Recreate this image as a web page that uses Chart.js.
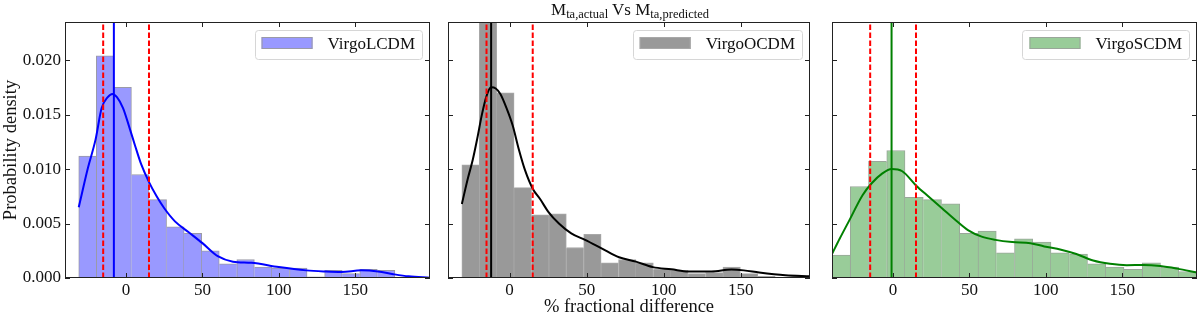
<!DOCTYPE html>
<html>
<head>
<meta charset="utf-8">
<script src="https://cdn.jsdelivr.net/npm/chart.js@4.4.1/dist/chart.umd.min.js"></script>
<style>
  html, body { margin: 0; padding: 0; background: #fff; }
  #wrap { position: relative; width: 1200px; height: 318px; overflow: hidden; }
  .panel { position: absolute; top: 0; }
  #title {
    position: absolute; top: 0; left: 430px; width: 400px; text-align: center;
    font-family: "Liberation Serif", serif; font-size: 17px; line-height: 20px; color: #111;
  }
  #title sub { font-size: 12.5px; vertical-align: -3px; line-height: 0; }
</style>
</head>
<body>
<div id="wrap">
  <canvas id="p1" class="panel" width="440" height="318" style="left:0px"></canvas>
  <canvas id="p2" class="panel" width="380" height="318" style="left:440px"></canvas>
  <canvas id="p3" class="panel" width="380" height="318" style="left:820px"></canvas>
  <div id="title">M<sub>ta,actual</sub> Vs M<sub>ta,predicted</sub></div>
</div>
<script>
// ---- data ----
const xTickValues = [0, 50, 100, 150];
const yTickValues = [0, 0.005, 0.010, 0.015, 0.020];
const errorBand = [-15, 15];

// VirgoLCDM
const lcdmBinCenters = [-25.25, -13.75, -2.25, 9.25, 20.75, 32.25, 43.75, 55.25, 66.75, 78.25,
  89.75, 101.25, 112.75, 124.25, 135.75, 147.25, 158.75, 170.25, 181.75, 193.25];
const lcdmDensity = [0.0112, 0.0204, 0.0175, 0.0095, 0.0072, 0.0047, 0.0041, 0.0025, 0.0013, 0.0017,
  0.0010, 0.0009, 0.0009, 0.0001, 0.0007, 0.0004, 0.0008, 0.0007, 0, 0];
const lcdmKdeX = [-31, -25, -20, -16, -12, -9, -6, -2, 2, 6, 10, 15, 20, 25, 32, 41, 50, 60, 70, 82,
  100, 118, 130, 141, 154, 165, 175, 185, 199];
const lcdmKdeY = [0.0065, 0.0101, 0.0127, 0.0156, 0.0166, 0.0169, 0.0166, 0.0156, 0.0139, 0.0121,
  0.0104, 0.0088, 0.0075, 0.0064, 0.0052, 0.0042, 0.0032, 0.0020, 0.0015, 0.0014,
  0.0010, 0.0007, 0.0006, 0.00055, 0.0007, 0.0006, 0.00035, 0.00015, 0.00003];
const lcdmMedian = -8;

// VirgoOCDM
const ocdmBinCenters = [-25.35, -14.05, -2.75, 8.55, 19.85, 31.15, 42.45, 53.75, 65.05, 76.35,
  87.65, 98.95, 110.25, 121.55, 132.85, 144.15, 155.45, 166.75, 178.05, 189.35];
const ocdmDensity = [0.0104, 0.0260, 0.0170, 0.0083, 0.0058, 0.0059, 0.0028, 0.0040, 0.0014, 0.0017,
  0.0014, 0.0008, 0.0007, 0.0004, 0.0005, 0.0010, 0.0004, 0.00015, 0.00006, 0.0001];
const ocdmKdeX = [-31, -27, -24, -21, -18, -15, -12, -9, -6, -2, 2, 6, 10, 15, 20, 25, 32, 40, 49, 60,
  71, 82, 93, 105, 116, 131, 144, 152, 162, 179, 195];
const ocdmKdeY = [0.0068, 0.0092, 0.0108, 0.0128, 0.0150, 0.0167, 0.0175, 0.0174, 0.0169, 0.0156,
  0.0140, 0.0118, 0.0099, 0.0082, 0.0072, 0.0061, 0.0050, 0.0041, 0.0035, 0.0027,
  0.0019, 0.0015, 0.0010, 0.0008, 0.0006, 0.0006, 0.00077, 0.0007, 0.0005, 0.00025, 0.00016];
const ocdmMedian = -12;

// VirgoSCDM
const scdmBinCenters = [-34.025, -22.075, -10.125, 1.825, 13.775, 25.725, 37.675, 49.625, 61.575, 73.525,
  85.475, 97.425, 109.375, 121.325, 133.275, 145.225, 157.175, 169.125, 181.075, 193.025];
const scdmDensity = [0.0021, 0.0084, 0.0107, 0.0117, 0.0074, 0.0072, 0.0068, 0.0041, 0.0043, 0.0023,
  0.0036, 0.0033, 0.0023, 0.0022, 0.0013, 0.0010, 0.0008, 0.0014, 0.0010, 0.0006];
const scdmKdeX = [-40, -35, -29, -20, -14, -7, -1, 6, 15, 23, 32, 41, 49, 58, 67, 78, 90, 99, 110, 120,
  131, 142, 153, 164, 175, 186, 199];
const scdmKdeY = [0.0022, 0.0036, 0.0052, 0.0076, 0.0087, 0.0096, 0.0100, 0.0098, 0.0085, 0.0075,
  0.0064, 0.0053, 0.0044, 0.0038, 0.0035, 0.0033, 0.0032, 0.0029, 0.0026, 0.0022,
  0.0016, 0.0013, 0.00117, 0.0012, 0.0011, 0.00086, 0.0005];
const scdmMedian = -1;

const FONT = '"Liberation Serif", "Times New Roman", serif';
const Y_MAX = 0.0235;

// inward ticks on all four sides + black frame (matplotlib style)
const frameTicks = {
  id: 'frameTicks',
  afterDraw(chart) {
    const {ctx, chartArea: a, scales} = chart;
    const len = 5;
    ctx.save();
    ctx.strokeStyle = '#222';
    ctx.lineWidth = 1;
    ctx.beginPath();
    xTickValues.forEach(v => {
      const px = Math.round(scales.x.getPixelForValue(v)) + 0.5;
      ctx.moveTo(px, a.bottom); ctx.lineTo(px, a.bottom - len);
      ctx.moveTo(px, a.top); ctx.lineTo(px, a.top + len);
    });
    yTickValues.forEach(v => {
      const py = Math.round(scales.y.getPixelForValue(v)) + 0.5;
      ctx.moveTo(a.left, py); ctx.lineTo(a.left + len, py);
      ctx.moveTo(a.right, py); ctx.lineTo(a.right - len, py);
    });
    ctx.stroke();
    ctx.strokeRect(a.left + 0.5, a.top + 0.5, a.right - a.left - 1, a.bottom - a.top - 1);
    ctx.restore();
  }
};

// framed legend in the upper right corner
const legendBox = {
  id: 'legendBox',
  afterDraw(chart) {
    const ds = chart.data.datasets.find(d => d.type === 'bar');
    const {ctx, chartArea: a} = chart;
    ctx.save();
    ctx.font = '17px ' + FONT;
    const tw = ctx.measureText(ds.label).width;
    const w = 7 + 51 + 15 + tw + 7, h = 29;
    const right = a.right - 8, top = a.top + 8, left = right - w;
    ctx.beginPath();
    ctx.roundRect(Math.round(left) + 0.5, top + 0.5, Math.round(w), h, 3);
    ctx.fillStyle = 'rgba(255,255,255,0.8)';
    ctx.fill();
    ctx.strokeStyle = '#d6d6d6';
    ctx.stroke();
    ctx.fillStyle = ds.backgroundColor;
    ctx.fillRect(left + 7, top + 7, 51, 12);
    ctx.strokeStyle = ds.borderColor;
    ctx.strokeRect(left + 7.5, top + 7.5, 50, 11);
    ctx.fillStyle = '#111';
    ctx.textBaseline = 'alphabetic';
    ctx.fillText(ds.label, left + 73, top + 18.5);
    ctx.restore();
  }
};

function pts(xs, ys) { return xs.map((x, i) => ({x: x, y: ys[i]})); }

function vline(x, color, dash) {
  return {
    type: 'line', data: [{x: x, y: 0}, {x: x, y: Y_MAX}],
    borderColor: color, borderWidth: 2, borderDash: dash || [], pointRadius: 0,
    tension: 0, order: 0
  };
}

function makePanel(id, p) {
  return new Chart(document.getElementById(id), {
    type: 'bar',
    data: {
      datasets: [
        vline(errorBand[0], '#ff0000', [5.5, 2.5]),
        vline(errorBand[1], '#ff0000', [5.5, 2.5]),
        vline(p.median, p.line),
        {
          type: 'line', data: pts(p.kdeX, p.kdeY), borderColor: p.line, borderWidth: 2,
          pointRadius: 0, cubicInterpolationMode: 'monotone', order: 1
        },
        {
          type: 'bar', label: p.name, data: pts(p.centers, p.density),
          backgroundColor: p.fill, borderColor: p.edge,
          borderWidth: c => {
            if (c.dataIndex === undefined) return 1;
            const d = c.dataset.data, i = c.dataIndex, hgt = d[i].y;
            const prev = i > 0 ? d[i - 1].y : 0, next = i < d.length - 1 ? d[i + 1].y : 0;
            return {top: 1, bottom: 0, left: hgt >= prev ? 1 : 0, right: hgt > next ? 1 : 0};
          },
          barPercentage: 1, categoryPercentage: 1, order: 2
        }
      ]
    },
    options: {
      responsive: false,
      animation: false,
      events: [],
      layout: {padding: {left: 0, top: 22, right: p.padRight, bottom: 0}},
      plugins: {legend: {display: false}, tooltip: {enabled: false}, title: {display: false}},
      scales: {
        x: {
          type: 'linear', min: -40, max: p.xMax, offset: false,
          grid: {display: false, drawTicks: false, offset: false},
          border: {display: false},
          afterBuildTicks: s => { s.ticks = xTickValues.map(v => ({value: v})); },
          afterFit: s => { s.height = 40; },
          ticks: {color: '#111', padding: 2, font: {family: FONT, size: 17}, maxRotation: 0},
          title: {
            display: !!p.xTitle, text: p.xTitle || '', color: '#111',
            font: {family: FONT, size: 18.5}, padding: {top: 1, bottom: 0}
          }
        },
        y: {
          type: 'linear', min: 0, max: Y_MAX,
          grid: {display: false, drawTicks: false},
          border: {display: false},
          afterBuildTicks: s => { s.ticks = yTickValues.map(v => ({value: v})); },
          afterFit: s => { s.width = p.yWidth; },
          ticks: {
            display: p.showY, color: '#111', padding: 4,
            font: {family: FONT, size: 17},
            callback: v => v.toFixed(3)
          },
          title: {
            display: !!p.yTitle, text: p.yTitle || '', color: '#111',
            font: {family: FONT, size: 18.5}, padding: {top: 0, bottom: 0}
          }
        }
      }
    },
    plugins: [frameTicks, legendBox]
  });
}

makePanel('p1', {
  name: 'VirgoLCDM', centers: lcdmBinCenters, density: lcdmDensity,
  kdeX: lcdmKdeX, kdeY: lcdmKdeY, median: lcdmMedian,
  fill: 'rgb(153,153,255)', edge: '#9a9aa6', line: '#0000ff',
  xMax: 199, yWidth: 65, padRight: 10, showY: true, yTitle: 'Probability density'
});
makePanel('p2', {
  name: 'VirgoOCDM', centers: ocdmBinCenters, density: ocdmDensity,
  kdeX: ocdmKdeX, kdeY: ocdmKdeY, median: ocdmMedian,
  fill: 'rgb(153,153,153)', edge: '#a8a8a8', line: '#000000',
  xMax: 195, yWidth: 8, padRight: 10, showY: false, xTitle: '% fractional difference'
});
makePanel('p3', {
  name: 'VirgoSCDM', centers: scdmBinCenters, density: scdmDensity,
  kdeX: scdmKdeX, kdeY: scdmKdeY, median: scdmMedian,
  fill: 'rgb(153,204,153)', edge: '#9aa69a', line: '#008000',
  xMax: 199, yWidth: 12, padRight: 3, showY: false
});
</script>
</body>
</html>
